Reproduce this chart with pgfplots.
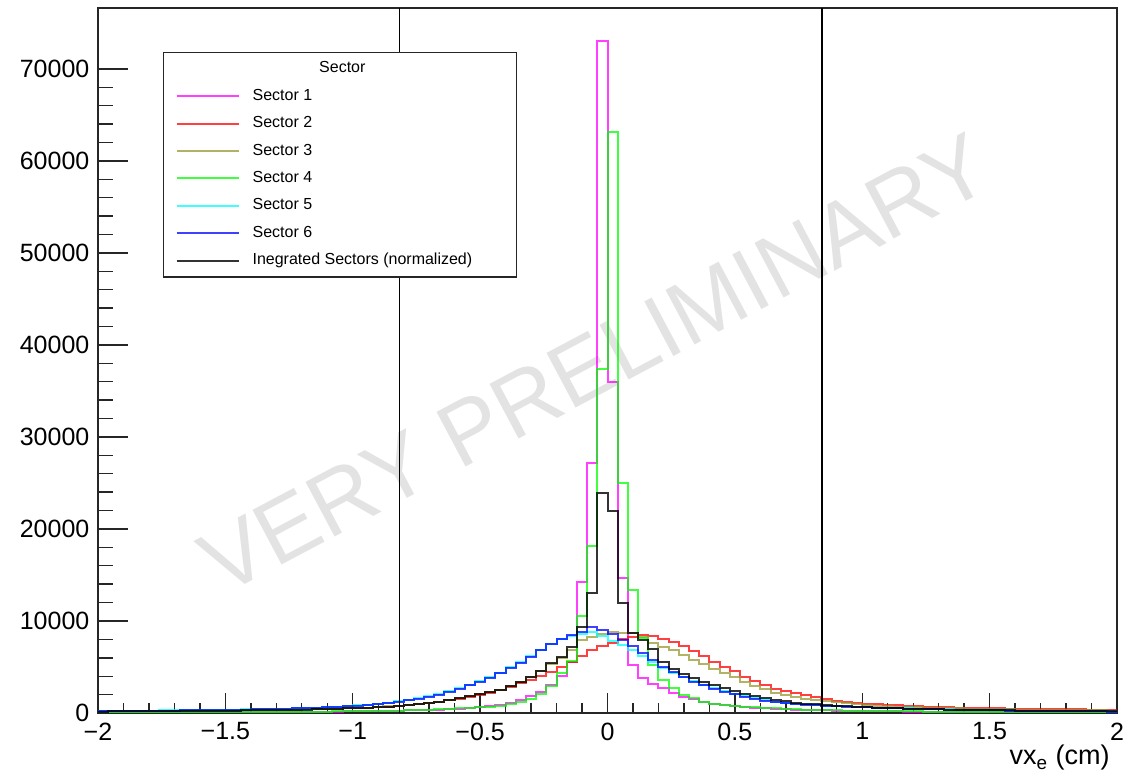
\documentclass[border=0pt]{standalone}
\usepackage{fontspec}
\setmainfont{Liberation Sans}
\usepackage{pgfplots}
\usepackage{pgfplotstable}
\pgfplotsset{compat=1.18}
\definecolor{rmag}{RGB}{255,0,255}
\definecolor{rred}{RGB}{255,0,0}
\definecolor{roli}{RGB}{153,153,51}
\definecolor{rgrn}{RGB}{0,255,0}
\definecolor{rcyn}{RGB}{0,255,255}
\definecolor{rblu}{RGB}{0,0,255}
\pgfplotstableread{
x s1 s2 s3 s4 s5 s6 s7
-2.00 63 167 165 73 231 220 160
-1.96 65 172 170 75 236 225 165
-1.92 67 177 175 77 242 230 170
-1.88 69 183 181 79 250 238 176
-1.84 71 189 187 81 257 245 182
-1.80 73 195 194 83 265 252 188
-1.76 75 202 201 85 273 260 195
-1.72 78 209 208 88 284 270 202
-1.68 81 217 216 91 294 280 210
-1.64 84 226 226 94 305 290 219
-1.60 87 235 235 97 315 300 228
-1.56 90 245 245 100 331 315 238
-1.52 94 256 256 104 347 330 249
-1.48 98 268 269 108 362 345 261
-1.44 102 281 282 112 383 365 274
-1.40 107 295 297 117 404 385 288
-1.36 112 310 312 122 425 405 303
-1.32 117 327 330 127 452 430 320
-1.28 123 345 348 133 483 460 338
-1.24 129 365 369 139 515 490 358
-1.20 136 387 391 146 550 525 380
-1.16 143 412 417 153 590 565 405
-1.12 151 440 448 161 640 610 435
-1.08 160 470 479 170 690 660 465
-1.04 170 505 515 180 755 720 500
-1.00 182 545 550 192 830 800 540
-0.96 195 590 595 207 920 880 585
-0.92 210 645 650 224 1020 980 640
-0.88 228 705 710 243 1140 1100 700
-0.84 248 775 780 265 1280 1240 770
-0.80 272 860 870 290 1430 1390 860
-0.76 300 960 970 320 1600 1560 960
-0.72 335 1080 1090 355 1810 1760 1080
-0.68 375 1220 1240 395 2060 2000 1230
-0.64 420 1390 1410 440 2360 2290 1400
-0.60 470 1570 1600 490 2700 2620 1590
-0.56 530 1780 1810 550 3070 2990 1800
-0.52 610 2000 2040 620 3470 3380 2030
-0.48 720 2220 2260 700 3900 3800 2250
-0.44 880 2480 2520 800 4400 4300 2500
-0.40 1100 2850 2900 950 4950 4850 2900
-0.36 1400 3250 3380 1180 5550 5450 3410
-0.32 1800 3600 3880 1550 6200 6100 3900
-0.28 2300 4000 4550 2100 6900 6800 4600
-0.24 3000 4450 5300 2900 7550 7500 5400
-0.20 4000 4950 6000 4300 8050 8050 6120
-0.16 5500 5500 6850 5600 8400 8480 7140
-0.12 14270 6200 7935 10540 8600 8840 9380
-0.08 27140 6800 8230 18150 8750 9310 13010
-0.04 73000 7300 8590 37400 8350 9020 23880
0.00 36000 7650 8840 63100 7800 8590 21960
0.04 14710 8000 8730 24970 7350 7940 11950
0.08 5200 8300 8660 13370 6850 7280 8730
0.12 3800 8450 8230 8120 6150 6490 7900
0.16 3100 8350 7570 5220 5500 5760 6950
0.20 2700 8010 7140 3590 4900 5000 5550
0.24 2150 7750 6850 2680 4400 4450 4800
0.28 1780 7300 6300 1960 3900 3900 4250
0.32 1500 6720 5760 1590 3450 3420 3800
0.36 1220 6160 5290 1230 3050 2990 3350
0.40 950 5520 4750 1000 2700 2640 3000
0.44 820 5000 4310 870 2380 2320 2700
0.48 720 4530 3880 760 2090 2030 2400
0.52 640 3950 3410 680 1830 1780 2100
0.56 570 3500 2935 610 1590 1540 1850
0.60 510 3040 2570 550 1390 1340 1620
0.64 455 2620 2210 495 1230 1180 1430
0.68 410 2390 1950 445 1100 1060 1270
0.72 370 2140 1740 400 1000 970 1140
0.76 335 1960 1560 365 925 900 1030
0.80 305 1700 1400 335 860 840 940
0.84 280 1560 1270 310 805 790 860
0.88 258 1340 1150 285 760 745 790
0.92 238 1200 1050 265 718 705 730
0.96 220 1100 960 248 682 670 675
1.00 205 1020 880 232 635 620 620
1.04 191 950 810 218 593 580 580
1.08 178 880 750 205 557 545 545
1.12 167 820 700 193 522 510 510
1.16 157 770 655 182 491 480 480
1.20 148 725 615 172 461 450 450
1.24 140 685 580 163 435 425 425
1.28 132 650 550 155 409 400 400
1.32 125 618 520 147 384 375 377
1.36 119 590 495 140 363 355 356
1.40 113 563 470 133 343 335 337
1.44 108 540 450 127 323 315 319
1.48 103 518 430 121 305 298 302
1.52 98 498 410 116 289 282 287
1.56 94 480 392 111 274 267 272
1.60 90 463 375 106 260 253 258
1.64 86 447 360 102 246 240 245
1.68 83 432 345 98 234 228 233
1.72 80 418 332 94 222 216 222
1.76 77 405 320 90 211 205 212
1.80 74 393 308 87 200 195 202
1.84 71 382 297 84 190 185 193
1.88 69 372 287 81 181 176 185
1.92 67 362 278 78 173 168 177
1.96 65 354 270 75 165 160 170
2.00 65 354 270 75 165 160 170
}\hist
\begin{document}
\begin{tikzpicture}
\begin{axis}[
  scale only axis, width=509.5pt, height=352.5pt,
  xmin=-2, xmax=2, ymin=0, ymax=76630,
  scaled y ticks=false, scaled x ticks=false,
  axis line style={line width=0.75pt, black!85},
  xtick={-2,-1.5,-1,-0.5,0,0.5,1,1.5,2},
  xticklabels={−2,−1.5,−1,−0.5,0,0.5,1,1.5,2},
  ytick={0,10000,20000,30000,40000,50000,60000,70000},
  yticklabels={0,10000,20000,30000,40000,50000,60000,70000},
  minor x tick num=4, minor y tick num=4,
  tick align=inside, xtick pos=left, ytick pos=left,
  tick style={black!85, line width=0.7pt},
  x tick style={/pgfplots/major tick length=10pt, /pgfplots/minor tick length=5pt},
  y tick style={/pgfplots/major tick length=15pt, /pgfplots/minor tick length=7.5pt},
  ticklabel style={font=\fontsize{12.5}{15}\selectfont},
  xticklabel style={inner xsep=0pt, yshift=-1.3pt},
  yticklabel style={xshift=-0.8pt},
  xlabel={vx\textsubscript{e} (cm)},
  xlabel style={at={(axis description cs:1,0)}, anchor=north east, yshift=-16pt, xshift=-3.5pt, inner sep=0pt, font=\fontsize{13.5}{16}\selectfont},
  legend cell align=left,
  legend style={at={(axis description cs:0.0638,0.9376)}, anchor=north west,
    draw=black!85, line width=0.6pt, fill=white,
    font=\fontsize{8}{9.6}\selectfont,
    inner xsep=6pt, inner ysep=1.3pt, row sep=0pt, column sep=6.5pt,
    nodes={inner sep=0pt, minimum height=13.7pt}},
  legend image code/.code={\draw[#1, line width=1pt] (0pt,0pt) -- (31pt,0pt);},
  every axis plot/.append style={line width=1pt},
]
\node[rotate=28, text=black!11, font=\fontsize{45}{54}\selectfont] at (axis cs:-0.05,38000) {VERY PRELIMINARY};
\addlegendimage{empty legend}
\addlegendentry{\makebox[126pt][l]{\hspace{33.3pt}Sector}}
\addplot[const plot, rmag, opacity=0.75] table[x=x, y=s1] {\hist};
\addlegendentry{Sector 1}
\addplot[const plot, rred, opacity=0.75] table[x=x, y=s2] {\hist};
\addlegendentry{Sector 2}
\addplot[const plot, roli, opacity=0.75] table[x=x, y=s3] {\hist};
\addlegendentry{Sector 3}
\addplot[const plot, rgrn, opacity=0.75] table[x=x, y=s4] {\hist};
\addlegendentry{Sector 4}
\addplot[const plot, rcyn, opacity=0.75] table[x=x, y=s5] {\hist};
\addlegendentry{Sector 5}
\addplot[const plot, rblu, opacity=0.75] table[x=x, y=s6] {\hist};
\addlegendentry{Sector 6}
\addplot[const plot, black, opacity=0.8] table[x=x, y=s7] {\hist};
\addlegendentry{Inegrated Sectors (normalized)}
\addplot[forget plot, black, line width=0.6pt] coordinates {(-0.818,0) (-0.818,76630)};
\addplot[forget plot, black, line width=0.6pt] coordinates {(0.842,0) (0.842,76630)};
\end{axis}
\path ([xshift=-49pt,yshift=-32pt]current axis.south west) rectangle ([xshift=4pt,yshift=4pt]current axis.north east);
\end{tikzpicture}
\end{document}
